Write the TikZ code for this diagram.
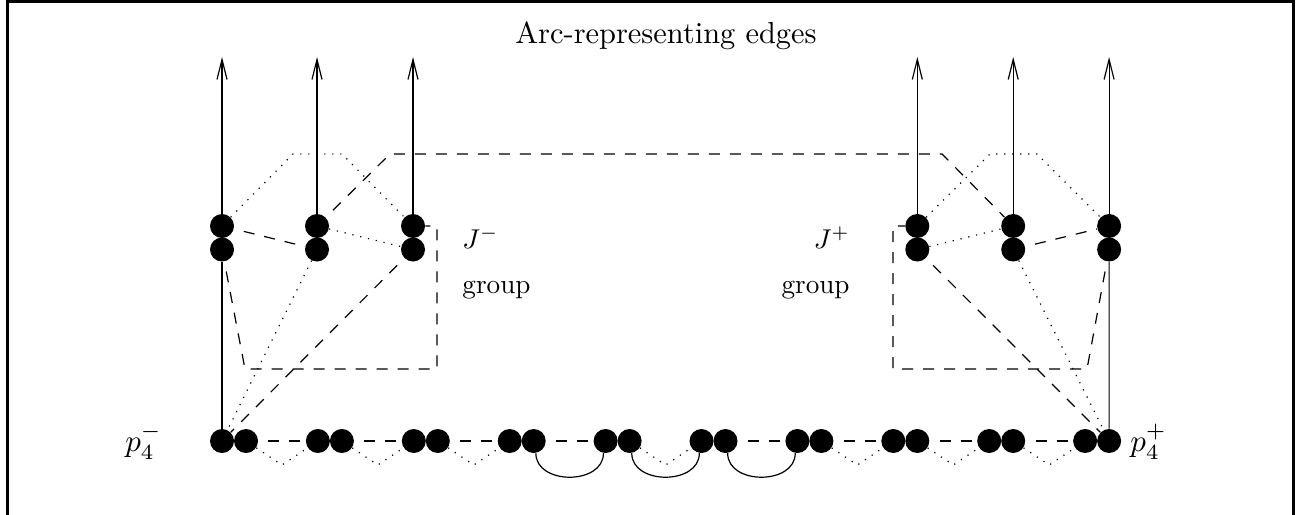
\documentclass[tikz,border=0pt]{standalone}
\usetikzlibrary{arrows.meta,calc}
\newcommand{\lblsize}[1]{\scalebox{1.36}{#1}}
\newcommand{\chainlblsize}[1]{\scalebox{1.55}{#1}}
\newcommand{\ttlsize}[1]{\scalebox{1.52}{#1}}
\begin{document}
\begin{tikzpicture}[x=0.5pt,y=-0.5pt,
  dot/.style={circle,fill=black,inner sep=0pt,minimum size=12pt},
  edge/.style={line width=0.6pt},
  dsh/.style={edge,dash pattern=on 5.5pt off 5pt,dash phase=5.5pt},
  dtt/.style={edge,dash pattern=on 0.6pt off 3.4pt},
  arcedge/.style={edge,-{Straight Barb[length=10pt,width=5pt]}},
  lbl/.style={inner sep=0pt}
]
\useasboundingbox (0,0) rectangle (1304,514);
% open frame
\begin{scope}
  \clip (0,0) rectangle (1304,514);
  \draw[line width=1.5pt] (7.5,530) -- (7.5,1) -- (1293.5,1) -- (1293.5,530);
\end{scope}

% title
\node[lbl,anchor=base] (title) at (666,43.5) {\ttlsize{Arc-representing edges}};

% chain of vertex pairs
\foreach \i in {1,...,10} {
  \node[dot] (a\i) at ({222+95.9*(\i-1)},441) {};
  \node[dot] (b\i) at ({246+95.9*(\i-1)},441) {};
}
\foreach \i in {1,...,9} {
  \coordinate (v\i) at ({282+95.9*(\i-1)},465);
}
% dashed links between consecutive pairs
\foreach \i in {1,2,3,4,6,7,8,9} {
  \pgfmathtruncatemacro\j{\i+1}
  \draw[dsh] (b\i) -- (a\j);
}
% dotted links below the chain
\foreach \i in {1,2,3,5,7,8,9} {
  \pgfmathtruncatemacro\j{\i+1}
  \draw[dtt] (b\i) -- (v\i) -- (a\j);
}
% solid arcs in the middle
\foreach \i in {4,5,6} {
  \pgfmathtruncatemacro\j{\i+1}
  \draw[edge] (b\i.-80) .. controls ($(b\i.-80)+(0,32)$) and ($(a\j.-100)+(0,32)$) .. (a\j.-100);
}

% J- group
\node[dot] (A1u) at (222,226) {};
\node[dot] (A1l) at (222,249.5) {};
\node[dot] (A2u) at (317,226) {};
\node[dot] (A2l) at (317,249.5) {};
\node[dot] (A3u) at (413,226) {};
\node[dot] (A3l) at (413,249.5) {};
% J+ group
\node[dot] (B1u) at (917.3,226) {};
\node[dot] (B1l) at (917.3,249.5) {};
\node[dot] (B2u) at (1013.2,226) {};
\node[dot] (B2l) at (1013.2,249.5) {};
\node[dot] (B3u) at (1109.1,226) {};
\node[dot] (B3l) at (1109.1,249.5) {};

% arc-representing edges
\foreach \n/\x in {A1u/222,A2u/317,A3u/413,B1u/917.3,B2u/1013.2,B3u/1109.1} {
  \coordinate (t\n) at (\x,57);
  \draw[arcedge] (\n) -- (t\n);
}

% vertical links to the chain ends
\draw[edge] (A1l) -- (a1);
\draw[edge] (B3l) -- (b10);

% corners of the routed edges
\coordinate (pA1) at (293,154);
\coordinate (pA2) at (342,154);
\coordinate (pB1) at (990,154);
\coordinate (pB2) at (1037,154);
\coordinate (lA) at (390,154);
\coordinate (lB) at (942,154);
\coordinate (gA1) at (245,369);
\coordinate (gA2) at (437,369);
\coordinate (gA3) at (437,226);
\coordinate (gB1) at (1087,369);
\coordinate (gB2) at (893,369);
\coordinate (gB3) at (893,226);

% edges of the J- group
\draw[dtt] (A1u) -- (pA1) -- (pA2) -- (A3u);
\draw[dsh] (A1u) -- (A2l);
\draw[dtt] (A2u) -- (A3l);
\draw[dsh] (A2u) -- (lA) -- (lB) -- (B2u);
\draw[dsh] (A1l) -- (gA1) -- (gA2) -- (gA3) -- (A3u);
\draw[dtt] (A2l) -- (a1);
\draw[dsh] (A3l) -- (a1);

% edges of the J+ group
\draw[dtt] (B1u) -- (pB1) -- (pB2) -- (B3u);
\draw[dtt] (B1l) -- (B2u);
\draw[dsh] (B2l) -- (B3u);
\draw[dsh] (B3l) -- (gB1) -- (gB2) -- (gB3) -- (B1u);
\draw[dsh] (B1l) -- (b10);
\draw[dtt] (B2l) -- (b10);

% labels
\node[lbl,anchor=base west] (jm) at (462,248) {\lblsize{$J^-$}};
\node[lbl,anchor=base west] (gm) at (462,293) {\lblsize{group}};
\node[lbl,anchor=base east] (jp) at (850,248) {\lblsize{$J^+$}};
\node[lbl,anchor=base east] (gp) at (850,293) {\lblsize{group}};
\node[lbl,anchor=base west] (pm) at (125,451) {\chainlblsize{$p_4^-$}};
\node[lbl,anchor=base west] (pp) at (1130,451) {\chainlblsize{$p_4^+$}};
\end{tikzpicture}
\end{document}
